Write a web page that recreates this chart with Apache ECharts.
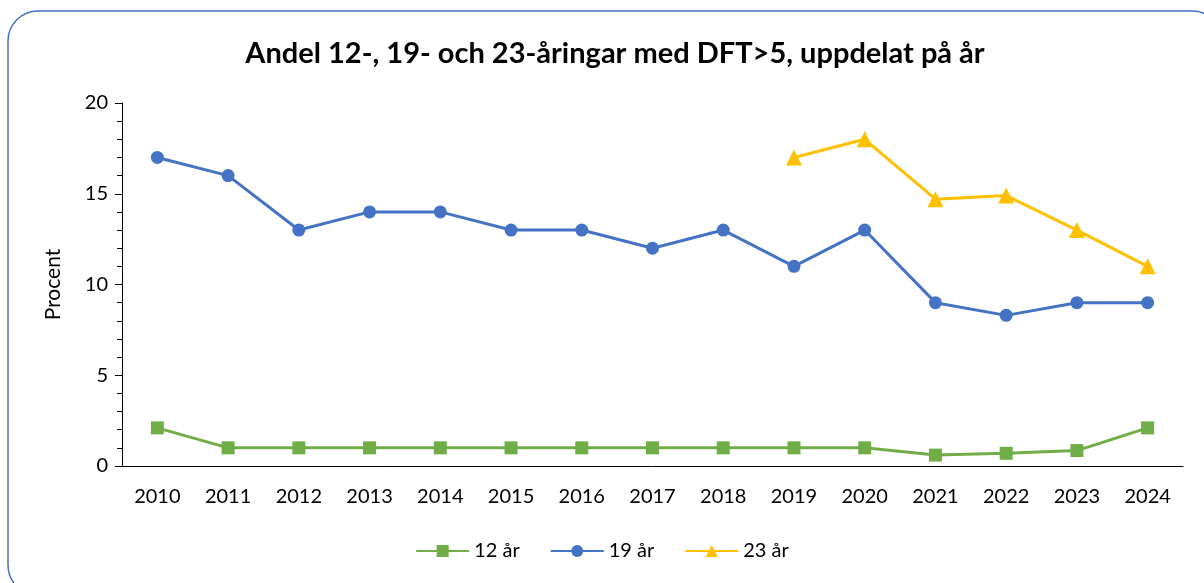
<!DOCTYPE html>
<html>
<head>
<meta charset="utf-8">
<script src="https://cdn.jsdelivr.net/npm/echarts@6/dist/echarts.min.js"></script>
<style>
  html, body { margin: 0; padding: 0; background: #fff; }
  #chart { width: 1204px; height: 583px; }
</style>
</head>
<body>
<div id="chart"></div>
<script>
// Data
const years = ['2010', '2011', '2012', '2013', '2014', '2015', '2016', '2017', '2018', '2019', '2020', '2021', '2022', '2023', '2024'];
const age12 = [2.1, 1, 1, 1, 1, 1, 1, 1, 1, 1, 1, 0.6, 0.7, 0.85, 2.1];
const age19 = [17, 16, 13, 14, 14, 13, 13, 12, 13, 11, 13, 9, 8.3, 9, 9];
const age23 = [null, null, null, null, null, null, null, null, null, 17, 18, 14.7, 14.9, 13, 11];

const font = 'Lato, "Open Sans", sans-serif';

const chart = echarts.init(document.getElementById('chart'));

const mkSeries = (name, data, color, symbol, size) => ({
  name: name,
  type: 'line',
  data: data,
  symbol: symbol,
  symbolSize: size,
  showSymbol: true,
  connectNulls: false,
  itemStyle: { color: color },
  lineStyle: { color: color, width: 3 },
  emphasis: { disabled: true }
});

chart.setOption({
  animation: false,
  textStyle: { fontFamily: font },
  graphic: [
    {
      type: 'rect',
      shape: { x: 8, y: 11, width: 1214, height: 584, r: 30 },
      style: { fill: 'none', stroke: '#4472C4', lineWidth: 1.5 },
      silent: true
    }
  ],
  title: {
    text: 'Andel 12-, 19- och 23-åringar med DFT>5, uppdelat på år',
    left: 610,
    textAlign: 'center',
    top: 34,
    textStyle: { fontFamily: font, fontSize: 29, fontWeight: 'bold', color: '#000' }
  },
  legend: {
    data: ['12 år', '19 år', '23 år'],
    bottom: 17,
    left: 'center',
    itemWidth: 53,
    itemHeight: 15,
    itemGap: 30,
    textStyle: { fontFamily: font, fontSize: 20, color: '#000' }
  },
  grid: { left: 122, right: 21, top: 103, bottom: 117 },
  xAxis: {
    type: 'category',
    data: years,
    boundaryGap: true,
    axisLine: { lineStyle: { color: '#000', width: 1 } },
    axisTick: { alignWithLabel: true, length: 6, lineStyle: { color: '#000' } },
    axisLabel: { fontFamily: font, fontSize: 20, color: '#000', margin: 21 }
  },
  yAxis: {
    type: 'value',
    min: 0,
    max: 20,
    interval: 5,
    name: 'Procent',
    nameLocation: 'middle',
    nameGap: 58,
    nameRotate: 90,
    nameTextStyle: { fontFamily: font, fontSize: 21, color: '#000' },
    axisLine: { show: true, lineStyle: { color: '#000', width: 1 } },
    axisTick: { show: true, length: 7, lineStyle: { color: '#000' } },
    minorTick: { show: true, splitNumber: 5, length: 5, lineStyle: { color: '#000' } },
    splitLine: { show: false },
    axisLabel: { fontFamily: font, fontSize: 20, color: '#000', margin: 14 }
  },
  series: [
    mkSeries('12 år', age12, '#70AD47', 'rect', 13),
    mkSeries('19 år', age19, '#4472C4', 'circle', 13),
    mkSeries('23 år', age23, '#FFC000', 'triangle', 16)
  ]
});
</script>
</body>
</html>
